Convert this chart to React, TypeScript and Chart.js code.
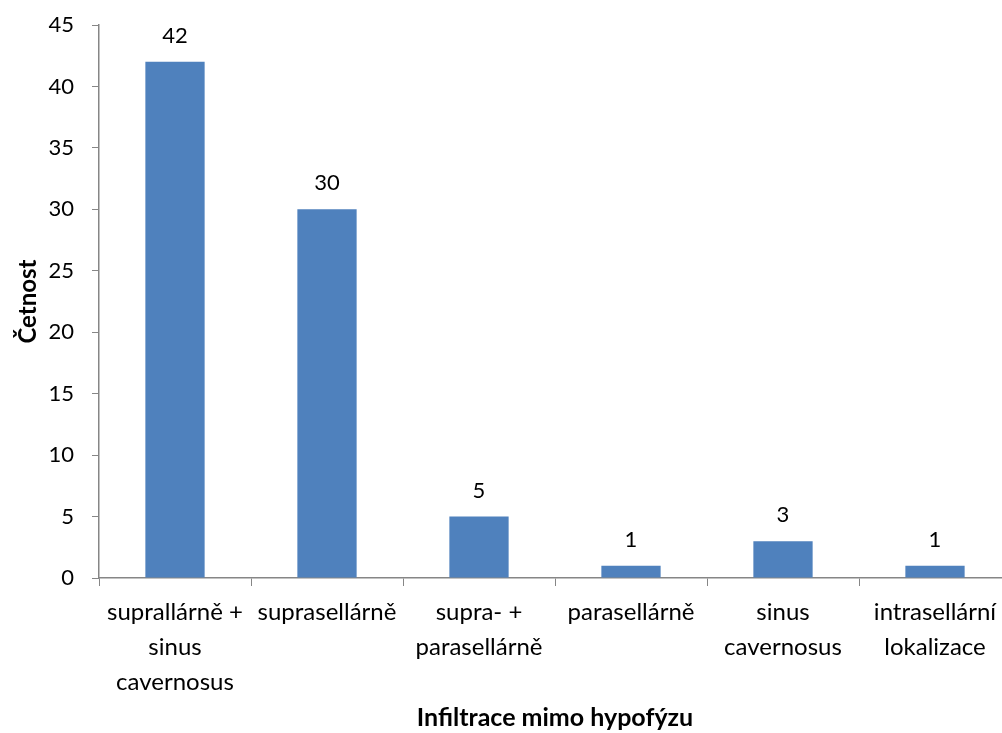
import React, { useEffect, useRef } from "react";
import { Chart, registerables } from "chart.js";

Chart.register(...registerables);

const categories: string[][] = [
  ["suprallárně +", "sinus", "cavernosus"],
  ["suprasellárně"],
  ["supra- +", "parasellárně"],
  ["parasellárně"],
  ["sinus", "cavernosus"],
  ["intrasellární", "lokalizace"],
];
const counts: number[] = [42, 30, 5, 1, 3, 1];
const yTicks: number[] = [0, 5, 10, 15, 20, 25, 30, 35, 40, 45];

const FONT = "Lato, 'Open Sans', sans-serif";
const AXIS_GRAY = "#868686";
const BAR_BLUE = "#4F81BD";

const valueLabels = {
  id: "valueLabels",
  afterDatasetsDraw(chart: any) {
    const ctx = chart.ctx;
    const meta = chart.getDatasetMeta(0);
    ctx.save();
    ctx.font = `22px ${FONT}`;
    ctx.fillStyle = "#000";
    ctx.textAlign = "center";
    ctx.textBaseline = "alphabetic";
    meta.data.forEach((bar: any, i: number) => {
      ctx.fillText(String(counts[i]), bar.x, bar.y - 19);
    });
    ctx.restore();
  },
};

export default function App() {
  const canvasRef = useRef<HTMLCanvasElement | null>(null);

  useEffect(() => {
    if (!canvasRef.current) return;
    const chart = new Chart(canvasRef.current, {
      type: "bar",
      data: {
        labels: categories,
        datasets: [
          {
            data: counts,
            backgroundColor: BAR_BLUE,
            borderWidth: 0,
            categoryPercentage: 1,
            barPercentage: 0.39,
          },
        ],
      },
      options: {
        responsive: false,
        animation: false,
        devicePixelRatio: 1,
        layout: { padding: { top: 25, right: 1, left: 0, bottom: 0 } },
        plugins: {
          legend: { display: false },
          tooltip: { enabled: false },
        },
        scales: {
          x: {
            grid: {
              drawOnChartArea: false,
              offset: true,
              tickLength: 8,
              color: AXIS_GRAY,
            },
            border: { color: AXIS_GRAY, width: 1.5 },
            ticks: {
              color: "#000",
              font: { family: FONT, size: 24, lineHeight: 1.45 },
              padding: 9,
              maxRotation: 0,
              autoSkip: false,
            },
            title: {
              display: true,
              text: "Infiltrace mimo hypofýzu",
              color: "#000",
              font: { family: FONT, size: 25, weight: "bold" },
              padding: { top: 0, bottom: 0 },
            },
            afterFit(scale: any) {
              scale.height = 733 - 578;
              scale.paddingLeft = 0;
              scale.paddingRight = 0;
            },
          },
          y: {
            min: 0,
            max: 45,
            afterBuildTicks(scale: any) {
              scale.ticks = yTicks.map((v) => ({ value: v }));
            },
            grid: {
              drawOnChartArea: false,
              tickLength: 7,
              color: AXIS_GRAY,
            },
            border: { color: AXIS_GRAY, width: 1.5 },
            ticks: {
              color: "#000",
              font: { family: FONT, size: 22 },
              padding: 18,
            },
            title: {
              display: true,
              text: "Četnost",
              color: "#000",
              font: { family: FONT, size: 24, weight: "bold" },
              padding: { top: 14, bottom: 0 },
            },
            afterFit(scale: any) {
              scale.width = 99;
              scale.paddingTop = 0;
              scale.paddingBottom = 0;
            },
          },
        },
      },
      plugins: [valueLabels],
    });
    return () => chart.destroy();
  }, []);

  return (
    <div
      style={{
        position: "absolute",
        left: 0,
        top: 0,
        width: 1002,
        height: 733,
        overflow: "hidden",
        background: "#fff",
      }}
    >
      <canvas ref={canvasRef} width={1012} height={733} style={{ display: "block" }} />
    </div>
  );
}
